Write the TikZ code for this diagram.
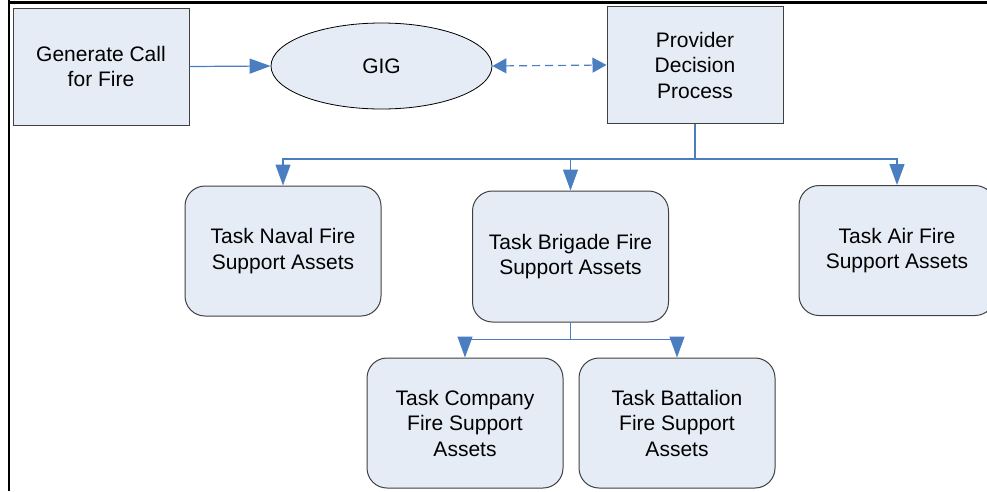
\documentclass[tikz,border=0pt]{standalone}
\usepackage{fontspec}
\setmainfont{Liberation Sans}
\usetikzlibrary{arrows.meta,shapes.geometric}
\definecolor{boxfill}{RGB}{230,236,246}
\definecolor{boxline}{RGB}{64,64,64}
\definecolor{flow}{RGB}{74,126,192}
\tikzset{
  txt/.style={font=\fontsize{21}{25.5}\selectfont, align=center},
  sqbox/.style={txt, draw=boxline, fill=boxfill, line width=1pt,
    minimum width=176pt, minimum height=117pt, inner sep=0pt},
  taskbox/.style={txt, draw=boxline, fill=boxfill, line width=1pt,
    rounded corners=20pt, minimum width=196pt, minimum height=130pt, inner sep=0pt},
  hub/.style={txt, ellipse, draw=black, fill=boxfill, line width=0.8pt,
    minimum width=221pt, minimum height=86pt, inner sep=0pt},
  tip/.style={-{Triangle[length=21pt,width=15pt]}},
  conn/.style={draw=flow, line width=1.2pt, tip},
  link/.style={draw=flow, line width=1.2pt, dash pattern=on 8pt off 5pt,
    {Triangle[length=14pt,width=15pt]}-{Triangle[length=14pt,width=15pt]}},
}
\begin{document}
\begin{tikzpicture}[x=1pt,y=-1pt]
\clip (0,0) rectangle (987,491);
\fill[white] (0,0) rectangle (987,491);

% frame along the top and the left side
\draw[line width=2.5pt] (8,2.5) -- (987,2.5);
\draw[line width=2.5pt] (9,0) -- (9,491);

% top row
\node[sqbox] (call) at (101,66.5) {Generate Call\\for Fire};
\node[hub] (gig) at (381.5,66) {GIG};
\node[sqbox] (prov) at (695,65) {Provider\\Decision\\Process};

% tasking boxes
\node[taskbox] (naval) at (283,251) {Task Naval Fire\\Support Assets};
\node[taskbox, minimum height=131pt] (brig) at (570.5,256.5) {Task Brigade Fire\\Support Assets};
\node[taskbox] (air) at (897,250.5) {Task Air Fire\\Support Assets};
\node[taskbox] (comp) at (465,423) {Task Company\\Fire Support\\Assets};
\node[taskbox] (batt) at (677,423) {Task Battalion\\Fire Support\\Assets};

% bus lines of the elbow connectors
\coordinate (bus1) at ([yshift=-35pt]prov.south);
\coordinate (bus2) at ([yshift=-17pt]brig.south);

% connectors
\draw[conn] (call.east) -- (gig.west);
\draw[link] (gig.east) -- (prov.west);
\draw[conn] (prov.south) -- (bus1) -| (naval.north);
\draw[conn] (prov.south) -- (bus1) -| (brig.north);
\draw[conn] (prov.south) -- (bus1) -| (air.north);
\draw[conn] (brig.south) -- (bus2) -| (comp.north);
\draw[conn] (brig.south) -- (bus2) -| (batt.north);
\end{tikzpicture}
\end{document}
